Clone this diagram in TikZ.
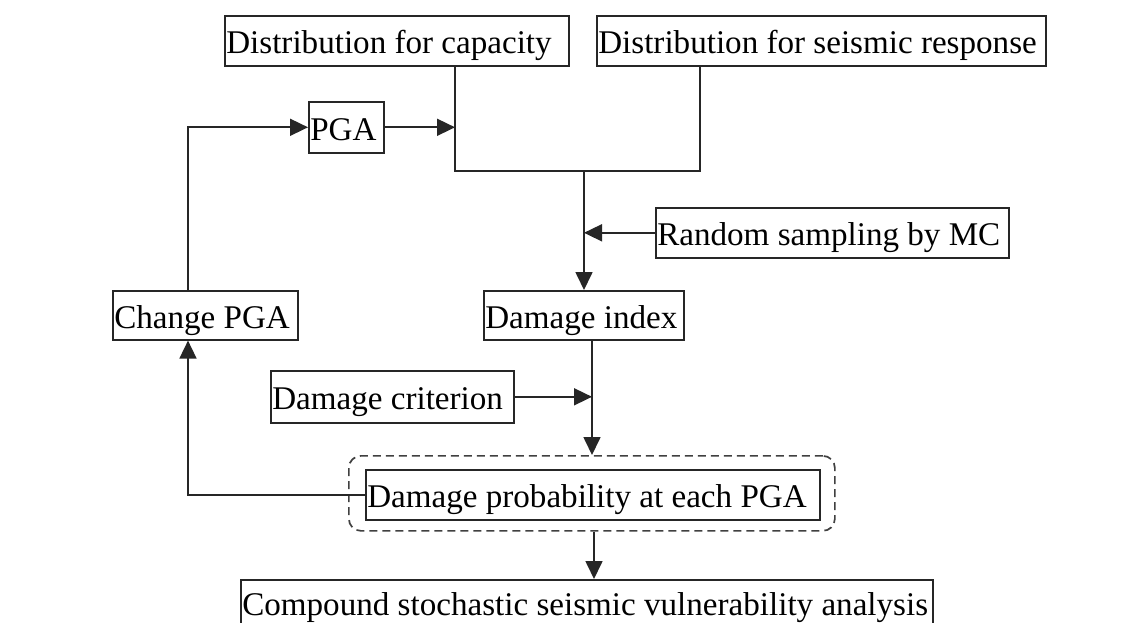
\documentclass[tikz,border=0pt]{standalone}
\usepackage{fontspec}
\setmainfont{Liberation Serif}
\usetikzlibrary{arrows.meta}
\newcommand{\bxt}[2]{\makebox[#1pt][l]{\hspace{1.5pt}\raisebox{-2pt}{#2}}}
\begin{document}
\begin{tikzpicture}[x=1pt,y=-1pt,
  flowbox/.style={draw=black!85, line width=1.6pt, inner sep=0pt, anchor=north west,
    text height=22pt, text depth=0pt, font=\fontsize{33.1}{36}\selectfont},
  conn/.style={draw=black!85, line width=1.7pt},
  arr/.style={conn, -{Triangle[length=18pt,width=17pt]}},
  dashbox/.style={draw=black!75, line width=1.7pt, dash pattern=on 8pt off 5pt,
    rounded corners=12pt, inner sep=0pt, anchor=north west}]
\useasboundingbox[fill=white] (0,0) rectangle (1138,623);

\node[flowbox, minimum height=50pt] (cap) at (224,15) {\bxt{344}{Distribution for capacity}};
\node[flowbox, minimum height=50pt] (seis) at (596,15) {\bxt{449}{Distribution for seismic response}};
\node[flowbox, minimum height=51pt] (pga) at (308,101) {\bxt{75}{PGA}};
\node[flowbox, minimum height=50pt] (rand) at (655,207) {\bxt{353}{Random sampling by MC}};
\node[flowbox, minimum height=49pt] (dmg) at (483,290) {\bxt{200}{Damage index}};
\node[flowbox, minimum height=49pt] (chg) at (112,290) {\bxt{185}{Change PGA}};
\node[flowbox, minimum height=52pt] (crit) at (270,370) {\bxt{243}{Damage criterion}};
\node[dashbox, minimum width=486pt, minimum height=75pt] (dash) at (348,455) {};
\node[flowbox, minimum height=50pt] (prob) at (365,469) {\bxt{454}{Damage probability at each PGA}};
\node[flowbox, minimum height=46pt] (comp) at (240,579) {\bxt{692}{Compound stochastic seismic vulnerability analysis}};

\coordinate (jl) at (455,171);
\coordinate (jr) at (700,171);
\coordinate (jm) at (584,171);
\coordinate (lx) at (188,0);
\coordinate (dx) at (592,0);
\coordinate (bx) at (594,0);

\draw[conn] (cap.south -| jl) -- (jl) -- (jr) -- (seis.south -| jr);
\draw[arr] (jm) -- (dmg.north -| jm);
\draw[arr] (pga.east) -- (pga.east -| jl);
\draw[arr] (rand.west) -- (rand.west -| jm);
\draw[arr] (chg.north -| lx) |- (pga.west);
\draw[arr] (crit.east) -- (crit.east -| dx);
\draw[arr] (dmg.south -| dx) -- (dash.north -| dx);
\draw[arr] (prob.west) -| (chg.south -| lx);
\draw[arr] (dash.south -| bx) -- (comp.north -| bx);
\end{tikzpicture}
\end{document}
